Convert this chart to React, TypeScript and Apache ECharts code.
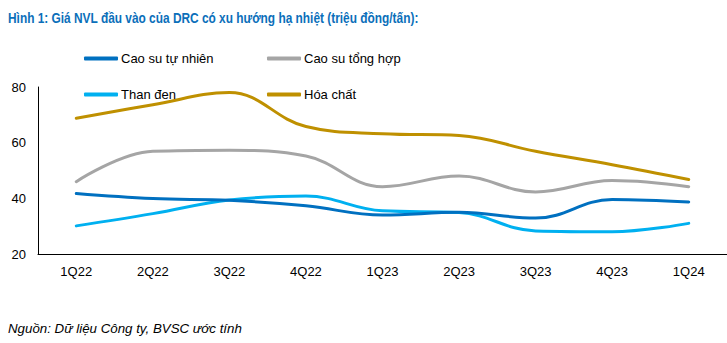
import React, { useEffect, useRef } from "react";
import * as echarts from "echarts";

const categories = ["1Q22", "2Q22", "3Q22", "4Q22", "1Q23", "2Q23", "3Q23", "4Q23", "1Q24"];
const caoSuTuNhien = [41.7, 39.9, 39.3, 37.3, 34.0, 35.0, 32.9, 39.6, 38.7];
const caoSuTongHop = [46.0, 56.9, 57.3, 55.2, 44.2, 48.0, 42.3, 46.4, 44.2];
const thanDen = [30.1, 34.5, 39.4, 40.8, 35.5, 34.9, 28.3, 28.0, 31.0];
const hoaChat = [68.8, 73.6, 78.0, 65.8, 63.2, 62.6, 56.9, 52.1, 46.8];
const yTicks = { min: 20, max: 80, interval: 20 };

const names = ["Cao su tự nhiên", "Cao su tổng hợp", "Than đen", "Hóa chất"];
const colors = ["#0070C0", "#A5A5A5", "#00B0F0", "#BF9000"];

export default function App() {
  const ref = useRef<HTMLDivElement>(null);
  useEffect(() => {
    document.body.style.margin = "0";
    if (!ref.current) return;
    const chart = echarts.init(ref.current, undefined, { renderer: "svg" });
    const font = "Arial, 'Liberation Sans', sans-serif";
    const legendPos = [
      { left: 84, top: 52 },
      { left: 267, top: 52 },
      { left: 84, top: 88 },
      { left: 267, top: 88 },
    ];
    const datas = [caoSuTuNhien, caoSuTongHop, thanDen, hoaChat];
    chart.setOption({
      animation: false,
      graphic: [
        {
          type: "text",
          x: 8,
          y: 9,
          scaleX: 0.768,
          style: {
            text: "Hình 1: Giá NVL đầu vào của DRC có xu hướng hạ nhiệt (triệu đồng/tấn):",
            fontFamily: font,
            fontSize: 15.5,
            fontWeight: "bold",
            fill: "#0B6FBA",
          },
        },
        {
          type: "text",
          x: 8,
          y: 322,
          style: {
            text: "Nguồn: Dữ liệu Công ty, BVSC ước tính",
            fontFamily: font,
            fontSize: 13.3,
            fontStyle: "italic",
            fill: "#000",
          },
        },
      ],
      legend: names.map((n, i) => ({
        data: [n],
        left: legendPos[i].left,
        top: legendPos[i].top,
        padding: 0,
        icon: "roundRect",
        itemWidth: 34,
        itemHeight: 4,
        itemGap: 3,
        textStyle: { fontFamily: font, fontSize: 13, color: "#000", padding: [0, 0, 0, -2] },
      })),
      grid: { left: 38, right: 0, top: 87, bottom: 89, containLabel: false },
      xAxis: {
        type: "category",
        data: categories,
        boundaryGap: true,
        axisLine: { lineStyle: { color: "#000", width: 1 } },
        axisTick: { show: false },
        axisLabel: { fontFamily: font, fontSize: 13, color: "#000", margin: 11 },
      },
      yAxis: {
        type: "value",
        min: yTicks.min,
        max: yTicks.max,
        interval: yTicks.interval,
        axisLine: { show: true, lineStyle: { color: "#000", width: 1 } },
        axisTick: { show: false },
        splitLine: { show: false },
        axisLabel: { fontFamily: font, fontSize: 13, color: "#000", margin: 12 },
      },
      series: names.map((n, i) => ({
        name: n,
        type: "line",
        data: datas[i],
        smooth: 0.4,
        symbol: "none",
        lineStyle: { color: colors[i], width: 3, cap: "round" },
        itemStyle: { color: colors[i] },
        z: 4 - i,
      })),
    });
    return () => chart.dispose();
  }, []);
  return <div ref={ref} style={{ width: 727, height: 343 }} />;
}
